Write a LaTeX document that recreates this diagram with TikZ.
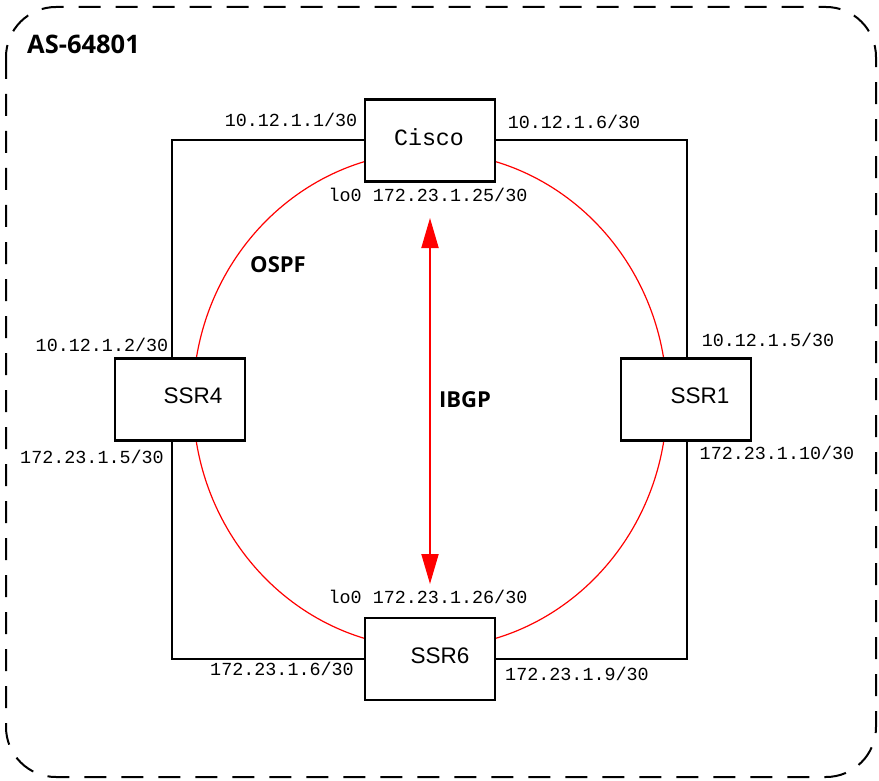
\documentclass[tikz,border=0pt]{standalone}
\usepackage{fontspec}
\setmainfont{Liberation Sans}
\newfontfamily\monofont{Liberation Mono}
\newfontfamily\boldfont{Open Sans}
\usetikzlibrary{arrows.meta}
\pgfdeclarelayer{background}
\pgfsetlayers{background,main}
\tikzset{
  router/.style={draw=black, line width=2.6pt, fill=white, minimum width=130pt, minimum height=82pt, inner sep=0pt},
  link/.style={draw=black, line width=2pt},
  addr/.style={font=\monofont\fontsize{18.4}{20}\selectfont, inner sep=0pt},
  rname/.style={font=\fontsize{22.5}{24}\selectfont, inner sep=0pt},
  title/.style={font=\boldfont\bfseries\fontsize{22}{24}\selectfont, inner sep=0pt},
  border/.style={draw=black, line width=2pt, dash pattern=on 22pt off 15pt, rounded corners=50pt},
  ospf/.style={draw=red, line width=1.2pt},
  ibgp/.style={draw=red, line width=2pt, {Triangle[length=30pt,width=17pt]}-{Triangle[length=30pt,width=17pt]}}
}
\begin{document}
\begin{tikzpicture}[x=1pt,y=-1pt]
\useasboundingbox (0,0) rectangle (879,781);
\draw[border] (6,7) rectangle (876,777);
\node[title, anchor=west] (as) at (27,44) {\fontsize{25.5}{27}\selectfont AS-64801};

\node[router] (cisco) at (430,140.5) {};
\node[router] (ssr4) at (180,399.5) {};
\node[router] (ssr1) at (686,399.5) {};
\node[router] (ssr6) at (430,659) {};

\node[font=\monofont\fontsize{23.3}{25}\selectfont, inner sep=0pt] (ciscot) at (429,137) {Cisco};
\node[rname] (ssr4t) at (193,396) {SSR4};
\node[rname] (ssr1t) at (700,396) {SSR1};
\node[rname] (ssr6t) at (440,656) {SSR6};

\coordinate (l4) at (172,399.5);
\coordinate (r1) at (687,399.5);
\begin{pgfonlayer}{background}
  \draw[link] (cisco.center) -| (l4) |- (ssr6.center);
  \draw[link] (cisco.center) -| (r1) |- (ssr6.center);
  \draw[ospf] (430,400) ellipse [x radius=237pt, y radius=248pt];
\end{pgfonlayer}

\coordinate (ibgpTop) at (430,218);
\coordinate (ibgpBot) at (430,584);
\draw[ibgp] (ibgpTop) -- (ibgpBot);

\node[title] (ospfl) at (278,265) {OSPF};
\node[title] (ibgpl) at (465,400) {IBGP};

\node[addr] (a1) at (291,120) {10.12.1.1/30};
\node[addr] (a2) at (574,122) {10.12.1.6/30};
\node[addr] (a3) at (428,195) {lo0 172.23.1.25/30};
\node[addr] (a4) at (102,345) {10.12.1.2/30};
\node[addr] (a5) at (92,457) {172.23.1.5/30};
\node[addr] (a6) at (768,340) {10.12.1.5/30};
\node[addr] (a7) at (777,453) {172.23.1.10/30};
\node[addr] (a8) at (428,597) {lo0 172.23.1.26/30};
\node[addr] (a9) at (282,669) {172.23.1.6/30};
\node[addr] (a10) at (577,674) {172.23.1.9/30};
\end{tikzpicture}
\end{document}
